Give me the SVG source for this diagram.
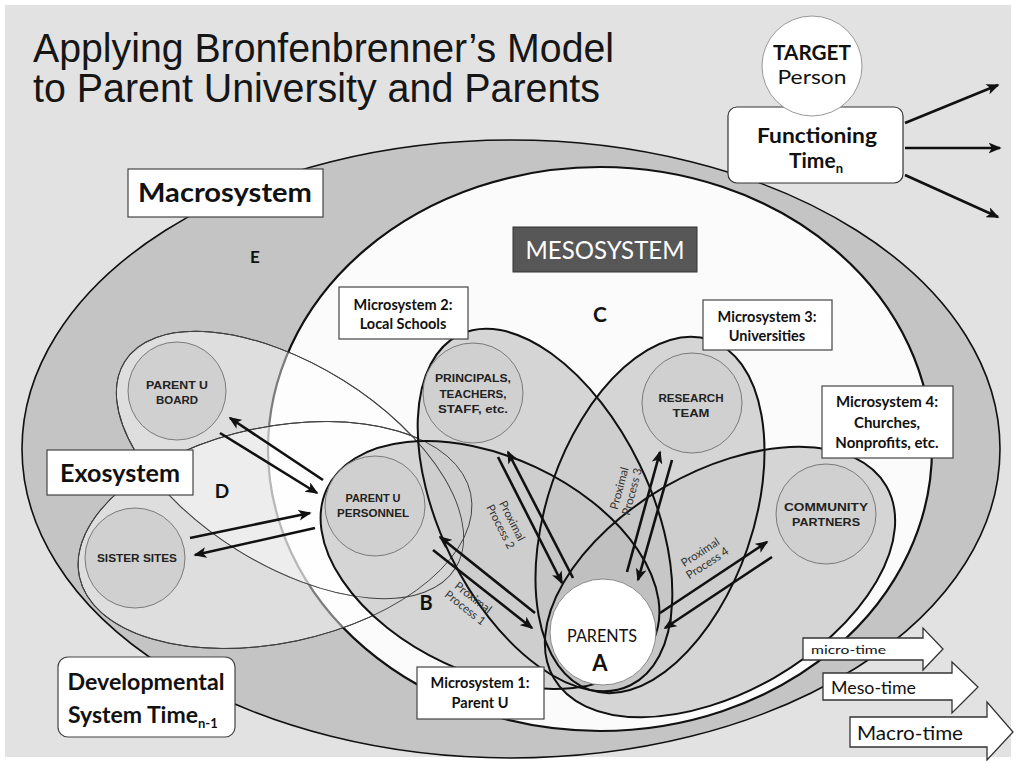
<svg xmlns="http://www.w3.org/2000/svg" width="1016" height="761" viewBox="0 0 1016 761">
<defs>
<style>
.t{font-family:Lato,"Open Sans","Liberation Sans",sans-serif;fill:#111}
.b{font-weight:700}
.lbl{font-family:Lato,"Liberation Sans",sans-serif;font-weight:700;fill:#111;text-anchor:middle}
.role{font-family:"Liberation Sans",Arial,sans-serif;font-weight:700;fill:#222;font-size:11px;text-anchor:middle}
.prox{font-family:Lato,"Liberation Sans",sans-serif;font-size:11.5px;fill:#333;text-anchor:middle}
.box{fill:#fff;stroke:#444;stroke-width:1.2}
.mbase{fill:#dcdcdc;stroke:none}
.micro{fill:#000;fill-opacity:0.03;stroke:#111;stroke-width:2}
.exo{fill:#fff;fill-opacity:0.45;stroke:#222;stroke-width:1}
.exoline{fill:none;stroke:#444;stroke-width:0.9}
.rc{fill:#d0d0d0;stroke:#7a7a7a;stroke-width:1}
.arr{stroke:#111;stroke-width:2.6;fill:none;marker-end:url(#ah)}
.tarr{fill:#fff;stroke:#333;stroke-width:1.3}
</style>
<marker id="ah" viewBox="0 0 12 10" refX="10.5" refY="5" markerWidth="13" markerHeight="11" markerUnits="userSpaceOnUse" orient="auto"><path d="M0,0 L12,5 L0,10 L3,5 z" fill="#111"/></marker>
<ellipse id="m1" cx="490" cy="565" rx="180" ry="108" transform="rotate(25 490 565)"/>
<ellipse id="m2" cx="545" cy="510" rx="195" ry="105" transform="rotate(64 545 510)"/>
<ellipse id="m3" cx="650" cy="515" rx="185" ry="103" transform="rotate(-71 650 515)"/>
<ellipse id="m4" cx="720" cy="582" rx="192" ry="110" transform="rotate(-30 720 582)"/>
<ellipse id="e1" cx="290" cy="465" rx="195" ry="100" transform="rotate(32 290 465)"/>
<ellipse id="e2" cx="275" cy="535" rx="200" ry="108" transform="rotate(-12 275 535)"/>
</defs>
<rect width="1016" height="761" fill="#fff"/>
<rect x="5" y="5" width="1006" height="752" fill="#e2e2e2"/>

<g id="title">
<text x="33" y="62" font-family="'Liberation Sans',Arial,sans-serif" font-size="40" fill="#161616" textLength="581" lengthAdjust="spacingAndGlyphs">Applying Bronfenbrenner’s Model</text>
<text x="33" y="102" font-family="'Liberation Sans',Arial,sans-serif" font-size="40" fill="#161616" textLength="567" lengthAdjust="spacingAndGlyphs">to Parent University and Parents</text>
</g>

<g id="macrosystem">
<ellipse cx="511" cy="449" rx="489" ry="309" fill="#c4c4c4" stroke="#111" stroke-width="1.6"/>
</g>
<g id="mesosystem">
<ellipse cx="600" cy="449" rx="332" ry="282" fill="#fbfbfb" stroke="#111" stroke-width="2.2"/>
</g>
<g id="exosystem">
<use href="#e1" class="exo"/>
<use href="#e2" class="exo"/>
</g>
<g id="microsystems">
<use href="#m1" class="mbase"/>
<use href="#m2" class="mbase"/>
<use href="#m3" class="mbase"/>
<use href="#m4" class="mbase"/>
<use href="#e1" class="exoline"/>
<use href="#e2" class="exoline"/>
<use href="#m1" class="micro"/>
<use href="#m2" class="micro"/>
<use href="#m3" class="micro"/>
<use href="#m4" class="micro"/>
</g>

<g id="board">
<circle class="rc" cx="177" cy="391" r="49"/>
<text class="role" x="177" y="389" textLength="62" lengthAdjust="spacingAndGlyphs">PARENT U</text>
<text class="role" x="177" y="404" textLength="42" lengthAdjust="spacingAndGlyphs">BOARD</text>
</g>
<g id="sister">
<circle class="rc" cx="135" cy="558" r="50"/>
<text class="role" x="137" y="562" textLength="80" lengthAdjust="spacingAndGlyphs">SISTER SITES</text>
</g>
<g id="personnel">
<circle class="rc" cx="375" cy="506" r="50"/>
<text class="role" x="373" y="502" textLength="55" lengthAdjust="spacingAndGlyphs">PARENT U</text>
<text class="role" x="373" y="517" textLength="72" lengthAdjust="spacingAndGlyphs">PERSONNEL</text>
</g>
<g id="principals">
<circle class="rc" cx="473" cy="393" r="50"/>
<text class="role" x="473" y="382" textLength="76" lengthAdjust="spacingAndGlyphs">PRINCIPALS,</text>
<text class="role" x="473" y="398" textLength="67" lengthAdjust="spacingAndGlyphs">TEACHERS,</text>
<text class="role" x="473" y="413" textLength="70" lengthAdjust="spacingAndGlyphs">STAFF, etc.</text>
</g>
<g id="research">
<circle class="rc" cx="692" cy="403" r="50"/>
<text class="role" x="691" y="402" textLength="65" lengthAdjust="spacingAndGlyphs">RESEARCH</text>
<text class="role" x="691" y="417" textLength="37" lengthAdjust="spacingAndGlyphs">TEAM</text>
</g>
<g id="community">
<circle class="rc" cx="826" cy="514" r="50"/>
<text class="role" x="826" y="511" textLength="84" lengthAdjust="spacingAndGlyphs">COMMUNITY</text>
<text class="role" x="826" y="526" textLength="68" lengthAdjust="spacingAndGlyphs">PARTNERS</text>
</g>
<g id="parents">
<circle cx="603" cy="632" r="53" fill="#fff" stroke="#888" stroke-width="1"/>
<text class="t" x="602" y="642" font-size="18" text-anchor="middle" fill="#1a1a1a" textLength="70" lengthAdjust="spacingAndGlyphs">PARENTS</text>
<text class="t b" x="600" y="671" font-size="22" text-anchor="middle">A</text>
</g>

<g id="letters">
<text class="t b" x="255" y="263" font-size="17" text-anchor="middle">E</text>
<text class="t b" x="222" y="498" font-size="19" text-anchor="middle">D</text>
<text class="t b" x="600" y="322" font-size="21" text-anchor="middle">C</text>
<text class="t b" x="426" y="610" font-size="20" text-anchor="middle">B</text>
</g>

<g id="macro-label">
<rect class="box" x="128" y="169" width="195" height="48"/>
<text class="lbl" x="225" y="202" font-size="27" textLength="174" lengthAdjust="spacingAndGlyphs">Macrosystem</text>
</g>
<g id="exo-label">
<rect class="box" x="47" y="450" width="146" height="45"/>
<text class="lbl" x="120" y="482" font-size="25" textLength="120" lengthAdjust="spacingAndGlyphs">Exosystem</text>
</g>
<g id="meso-label">
<rect x="513" y="227" width="184" height="45" fill="#575757" stroke="#333" stroke-width="1"/>
<text x="605" y="259" font-family="Lato,'Liberation Sans',sans-serif" font-size="25" fill="#fff" text-anchor="middle" textLength="159" lengthAdjust="spacingAndGlyphs">MESOSYSTEM</text>
</g>
<g id="ms2-label">
<rect class="box" x="339" y="287" width="129" height="52"/>
<text class="lbl" x="403" y="310" font-size="14.5">Microsystem 2:</text>
<text class="lbl" x="403" y="329" font-size="14.5">Local Schools</text>
</g>
<g id="ms3-label">
<rect class="box" x="703" y="300" width="129" height="50"/>
<text class="lbl" x="767" y="322" font-size="14.5">Microsystem 3:</text>
<text class="lbl" x="767" y="341" font-size="14.5">Universities</text>
</g>
<g id="ms4-label">
<rect class="box" x="822" y="386" width="131" height="72"/>
<text class="lbl" x="887" y="407" font-size="15">Microsystem 4:</text>
<text class="lbl" x="887" y="428" font-size="15">Churches,</text>
<text class="lbl" x="887" y="448" font-size="15">Nonprofits, etc.</text>
</g>
<g id="ms1-label">
<rect class="box" x="417" y="667" width="127" height="52"/>
<text class="lbl" x="480" y="688" font-size="14.5">Microsystem 1:</text>
<text class="lbl" x="480" y="708" font-size="14.5">Parent U</text>
</g>

<g id="functioning">
<rect x="728" y="107" width="175" height="76" rx="9" fill="#fff" stroke="#333" stroke-width="1.2"/>
<text class="lbl" x="817" y="143" font-size="21" textLength="120" lengthAdjust="spacingAndGlyphs">Functioning</text>
<text class="t b" x="789" y="168" font-size="21">Time<tspan font-size="13" dy="5">n</tspan></text>
</g>
<g id="target">
<circle cx="812" cy="66" r="50" fill="#fff" stroke="#999" stroke-width="1"/>
<text class="lbl" x="812" y="60" font-size="20" textLength="78" lengthAdjust="spacingAndGlyphs">TARGET</text>
<text class="t" x="812" y="84" font-size="19" text-anchor="middle" textLength="69" lengthAdjust="spacingAndGlyphs">Person</text>
</g>
<g id="developmental">
<rect x="58" y="657" width="177" height="80" rx="10" fill="#fff" stroke="#444" stroke-width="1.2"/>
<text class="lbl" x="146" y="690" font-size="23" textLength="157" lengthAdjust="spacingAndGlyphs">Developmental</text>
<text class="t b" x="68" y="723" font-size="23">System Time<tspan font-size="13" dy="5">n-1</tspan></text>
</g>

<g id="time-arrows">
<polygon class="tarr" points="803,638 923,638 923,628 943,649 923,670 923,660 803,660"/>
<text class="t" x="811" y="654" font-size="12" fill="#444" textLength="75" lengthAdjust="spacingAndGlyphs">micro-time</text>
<polygon class="tarr" points="823,673 952,673 952,662 978,687 952,713 952,700 823,700"/>
<text class="t" x="831" y="694" font-size="17" fill="#333" textLength="85" lengthAdjust="spacingAndGlyphs">Meso-time</text>
<polygon class="tarr" points="850,717 987,717 987,702 1013,732 987,760 987,747 850,747"/>
<text class="t" x="857" y="740" font-size="20" fill="#222" textLength="106" lengthAdjust="spacingAndGlyphs">Macro-time</text>
</g>

<g id="connectors">
<line class="arr" x1="905" y1="123" x2="998" y2="85"/>
<line class="arr" x1="905" y1="148" x2="1000" y2="148"/>
<line class="arr" x1="905" y1="175" x2="998" y2="217"/>
<line class="arr" x1="323" y1="480" x2="230" y2="418"/>
<line class="arr" x1="220" y1="433" x2="317" y2="493"/>
<line class="arr" x1="190" y1="538" x2="310" y2="513"/>
<line class="arr" x1="315" y1="528" x2="195" y2="555"/>
<line class="arr" x1="535" y1="613" x2="440" y2="537"/>
<line class="arr" x1="433" y1="550" x2="532" y2="628"/>
<line class="arr" x1="573" y1="578" x2="508" y2="452"/>
<line class="arr" x1="498" y1="457" x2="562" y2="583"/>
<line class="arr" x1="627" y1="572" x2="660" y2="452"/>
<line class="arr" x1="672" y1="460" x2="638" y2="580"/>
<line class="arr" x1="660" y1="613" x2="767" y2="542"/>
<line class="arr" x1="772" y1="557" x2="665" y2="628"/>
<g transform="translate(469 603) rotate(38)"><text class="prox" y="-3">Proximal</text><text class="prox" y="10">Process 1</text></g>
<g transform="translate(506 524) rotate(63)"><text class="prox" y="-3">Proximal</text><text class="prox" y="10">Process 2</text></g>
<g transform="translate(626 490) rotate(-75)"><text class="prox" y="-3">Proximal</text><text class="prox" y="10">Process 3</text></g>
<g transform="translate(704 558) rotate(-33)"><text class="prox" y="-3">Proximal</text><text class="prox" y="10">Process 4</text></g>
</g>
</svg>
